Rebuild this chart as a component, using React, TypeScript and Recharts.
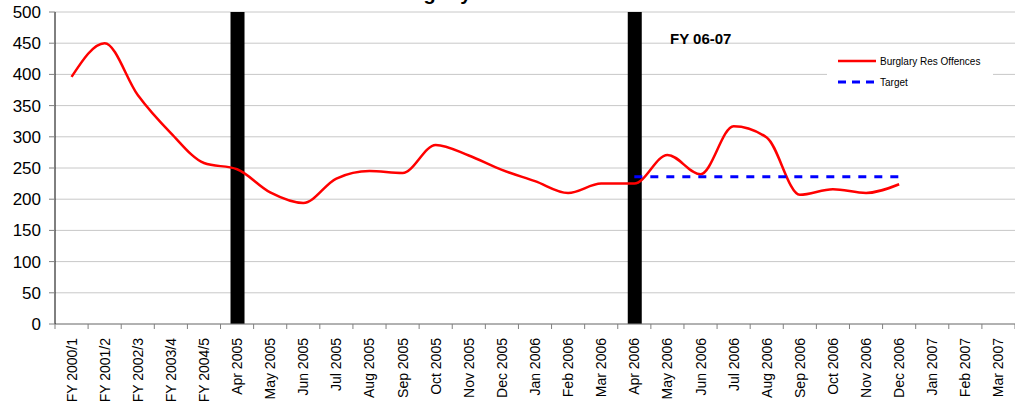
import React from 'react';
import {
  ComposedChart,
  Line,
  Bar,
  XAxis,
  YAxis,
  CartesianGrid
} from 'recharts';

const months = [
  'FY 2000/1', 'FY 2001/2', 'FY 2002/3', 'FY 2003/4', 'FY 2004/5',
  'Apr 2005', 'May 2005', 'Jun 2005', 'Jul 2005', 'Aug 2005', 'Sep 2005',
  'Oct 2005', 'Nov 2005', 'Dec 2005', 'Jan 2006', 'Feb 2006', 'Mar 2006',
  'Apr 2006', 'May 2006', 'Jun 2006', 'Jul 2006', 'Aug 2006', 'Sep 2006',
  'Oct 2006', 'Nov 2006', 'Dec 2006', 'Jan 2007', 'Feb 2007', 'Mar 2007'
];

const offences = [
  396, 450, 367, 306, 258,
  248, 211, 194, 233, 245, 242,
  287, 270, 247, 229, 210, 225,
  225, 271, 240, 317, 299, 207,
  216, 210, 224, null, null, null
];

const target = [
  null, null, null, null, null,
  null, null, null, null, null, null,
  null, null, null, null, null, null,
  236, 236, 236, 236, 236, 236,
  236, 236, 236, null, null, null
];

// year boundary markers (Apr 2005, Apr 2006)
const markers = [
  null, null, null, null, null,
  500, null, null, null, null, null,
  null, null, null, null, null, null,
  500, null, null, null, null, null,
  null, null, null, null, null, null
];

const yTicks = [0, 50, 100, 150, 200, 250, 300, 350, 400, 450, 500];

const data = months.map((m, i) => ({
  month: m,
  offences: offences[i],
  target: target[i],
  marker: markers[i]
}));

const W = 1015;
const H = 412;
const Y_AXIS_W = 55;
const PLOT_W = W - Y_AXIS_W;
const BAND = PLOT_W / months.length;
const FONT = '"Liberation Sans", Arial, sans-serif';

const MonthTick = (props: any) => {
  const { x, y, payload, index } = props;
  const last = index === months.length - 1;
  return (
    <g>
      <line x1={x - BAND / 2} y1={y} x2={x - BAND / 2} y2={y + 5} stroke="#808080" />
      {last && <line x1={x + BAND / 2} y1={y} x2={x + BAND / 2} y2={y + 5} stroke="#808080" />}
      <text
        x={x}
        y={y + 14}
        transform={`rotate(-90, ${x}, ${y + 14})`}
        textAnchor="end"
        dominantBaseline="central"
        fontSize={14}
        fontFamily={FONT}
        fill="#000"
      >
        {payload.value}
      </text>
    </g>
  );
};

export default function App() {
  return (
    <div style={{ position: 'absolute', left: 0, top: 0, width: W, height: H, background: '#fff', overflow: 'hidden' }}>
      <ComposedChart
        width={W}
        height={H}
        data={data}
        margin={{ top: 12, right: 0, bottom: 0, left: 0 }}
        barCategoryGap={0}
      >
        <CartesianGrid horizontal vertical={false} stroke="#c8c8c8" />
        <XAxis
          dataKey="month"
          interval={0}
          height={88}
          tickLine={false}
          tickSize={0}
          tickMargin={0}
          axisLine={{ stroke: '#808080' }}
          tick={<MonthTick />}
        />
        <YAxis
          width={Y_AXIS_W}
          domain={[0, 500]}
          ticks={yTicks}
          interval={0}
          tickSize={6}
          tickMargin={8}
          axisLine={{ stroke: '#000' }}
          tickLine={{ stroke: '#808080' }}
          tick={{ fontSize: 17, fontFamily: FONT, fill: '#000' }}
        />
        <Bar dataKey="marker" fill="#000" barSize={14} isAnimationActive={false} legendType="none" />
        <Line
          type="monotone"
          dataKey="offences"
          stroke="#ff0000"
          strokeWidth={2.5}
          dot={false}
          connectNulls={false}
          isAnimationActive={false}
        />
        <Line
          type="linear"
          dataKey="target"
          stroke="#0000ff"
          strokeWidth={3}
          strokeDasharray="8 8"
          dot={false}
          isAnimationActive={false}
        />
      </ComposedChart>
      <svg
        width={166}
        height={48}
        style={{ position: 'absolute', left: 827, top: 48, background: '#fff' }}
      >
        <line x1={11} y1={13} x2={49} y2={13} stroke="#ff0000" strokeWidth={2.5} />
        <line x1={11} y1={34} x2={49} y2={34} stroke="#0000ff" strokeWidth={3} strokeDasharray="8 6" />
        <text x={53} y={13} dominantBaseline="central" fontSize={10} fontFamily={FONT}>Burglary Res Offences</text>
        <text x={53} y={34} dominantBaseline="central" fontSize={10} fontFamily={FONT}>Target</text>
      </svg>
      <div
        style={{
          position: 'absolute',
          left: 0,
          width: 994,
          top: -19,
          textAlign: 'center',
          fontFamily: FONT,
          fontWeight: 'bold',
          fontSize: 20,
          lineHeight: '24px'
        }}
      >
        Burglary Res Offences
      </div>
      <div
        style={{
          position: 'absolute',
          left: 670,
          top: 31,
          fontFamily: FONT,
          fontWeight: 'bold',
          fontSize: 15,
          lineHeight: '16px'
        }}
      >
        FY 06-07
      </div>
    </div>
  );
}
